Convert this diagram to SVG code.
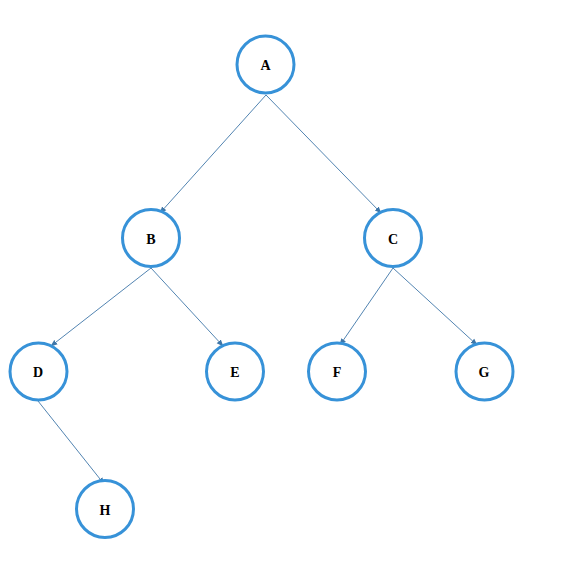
<svg xmlns="http://www.w3.org/2000/svg" width="561" height="569" viewBox="0 0 561 569">
<style>
.n circle{fill:#fff;stroke:#3792D8;stroke-width:3}
.n text{font-family:"Liberation Serif",serif;font-size:14px;font-weight:bold;text-anchor:middle;dominant-baseline:central;fill:#000}
.e line{stroke:#3E76A8;stroke-width:0.9;marker-end:url(#ah)}
</style>
<defs>
<marker id="ah" viewBox="0 0 10 10" refX="9" refY="5" markerWidth="7" markerHeight="7" markerUnits="userSpaceOnUse" orient="auto">
<path d="M0,1 L10,5 L0,9 z" fill="#3E76A8"/>
</marker>
</defs>
<rect width="561" height="569" fill="#fff"/>
<g id="edges" class="e">
<line x1="266" y1="95" x2="160" y2="213"/>
<line x1="266" y1="95" x2="381" y2="213"/>
<line x1="151" y1="268" x2="51" y2="346"/>
<line x1="151" y1="268" x2="223" y2="346"/>
<line x1="393" y1="268" x2="340" y2="345"/>
<line x1="393" y1="268" x2="477" y2="345"/>
<line x1="38" y1="401" x2="104" y2="484"/>
</g>
<g id="A" class="n"><circle cx="265.5" cy="64.5" r="28.5"/><text x="265.5" y="65.5">A</text></g>
<g id="B" class="n"><circle cx="151" cy="238" r="28.5"/><text x="151" y="239">B</text></g>
<g id="C" class="n"><circle cx="393" cy="238" r="28.5"/><text x="393" y="239">C</text></g>
<g id="D" class="n"><circle cx="38.5" cy="371.5" r="28.5"/><text x="38" y="372.5">D</text></g>
<g id="E" class="n"><circle cx="235" cy="371.5" r="28.5"/><text x="235" y="372.5">E</text></g>
<g id="F" class="n"><circle cx="337" cy="371.5" r="28.5"/><text x="337" y="372.5">F</text></g>
<g id="G" class="n"><circle cx="484.5" cy="371.5" r="28.5"/><text x="484" y="372.5">G</text></g>
<g id="H" class="n"><circle cx="105" cy="509" r="28.5"/><text x="105" y="510">H</text></g>
</svg>
